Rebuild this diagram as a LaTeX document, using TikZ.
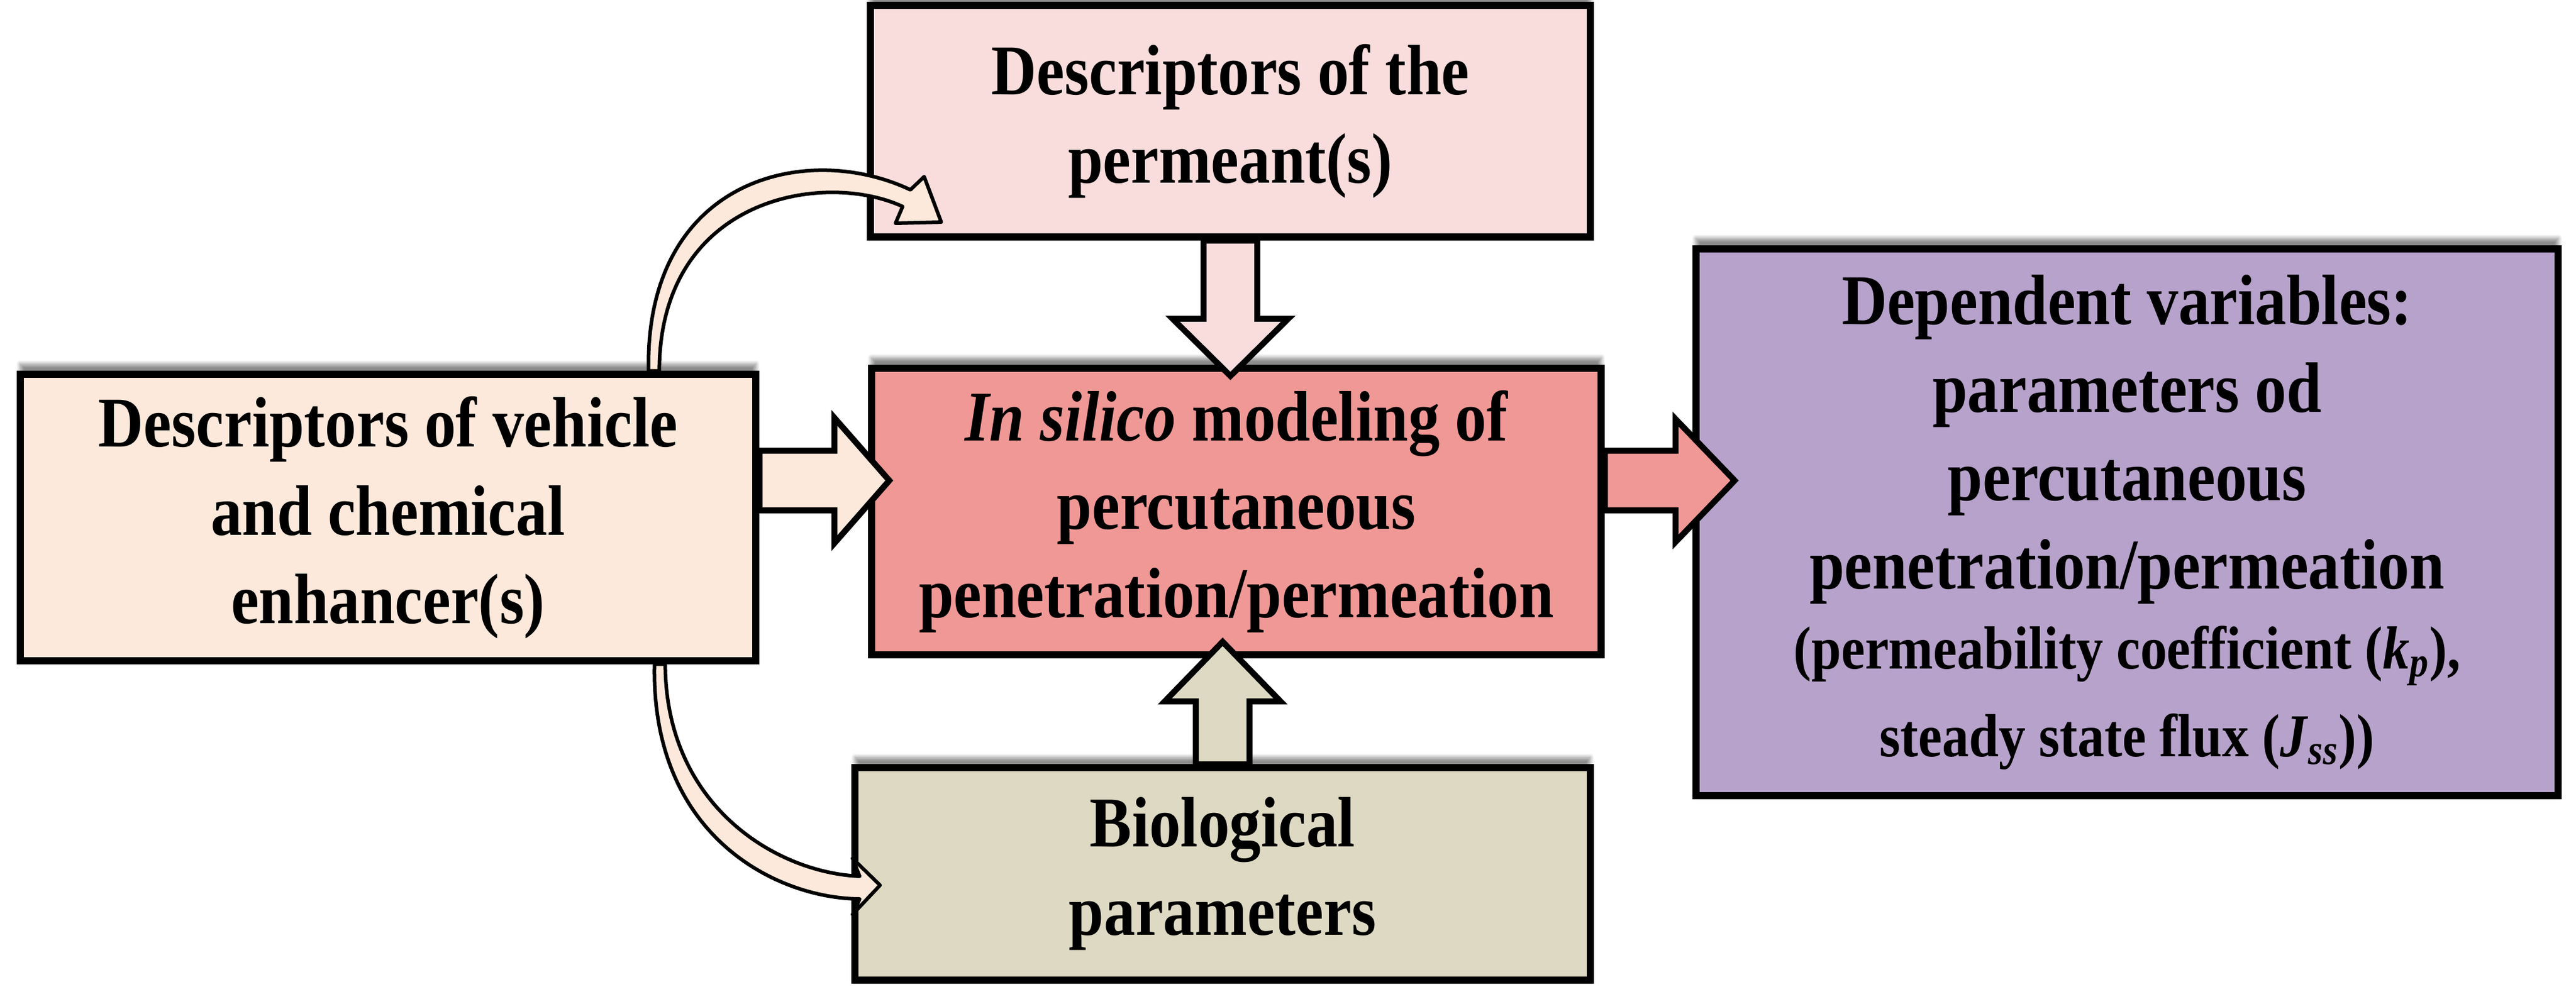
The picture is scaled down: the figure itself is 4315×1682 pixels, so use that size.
\documentclass[tikz,border=0pt]{standalone}
\usepackage{fontspec}
\setmainfont[FakeStretch=0.88]{Liberation Serif}
\usetikzlibrary{calc,shadows.blur}
\definecolor{ctop}{HTML}{F9DCDC}
\definecolor{cleft}{HTML}{FDE9DB}
\definecolor{ccen}{HTML}{F09896}
\definecolor{cbot}{HTML}{DDD9C3}
\definecolor{cright}{HTML}{B7A2CB}
\tikzset{
  box/.style={draw=black, line width=0.12cm, align=center, inner sep=0pt,
    font=\fontsize{34}{42}\selectfont\bfseries,
    blur shadow={shadow xshift=0pt, shadow yshift=5pt, shadow blur steps=10, shadow opacity=45}},
  blk/.style={draw=black, line width=0.1cm, line join=miter},
  curv/.style={draw=black, line width=0.06cm, fill=cleft, line join=round}
}
\begin{document}
\begin{tikzpicture}[x=0.01cm,y=-0.01cm]
\useasboundingbox (0,0) rectangle (4315,1682);
% boxes
\node[box, fill=ctop, minimum width=12.06cm, minimum height=3.88cm] (top) at (2061,203)
  {Descriptors of the\\permeant(s)};
\node[box, fill=cleft, minimum width=12.32cm, minimum height=4.79cm] (left) at (650,867)
  {Descriptors of vehicle\\and chemical\\enhancer(s)};
\node[box, fill=ccen, minimum width=12.22cm, minimum height=4.80cm] (center) at (2071,857)
  {\textit{In silico} modeling of\\percutaneous\\penetration/permeation};
\node[box, fill=cbot, minimum width=12.31cm, minimum height=3.55cm] (bottom) at (2048,1464)
  {Biological\\parameters};
\node[box, fill=cright, minimum width=14.44cm, minimum height=9.16cm] (right) at (3563,875)
  {Dependent variables:\\parameters od\\percutaneous\\penetration/permeation\\[-4pt]
   \fontsize{29}{35}\selectfont (permeability coefficient (\textit{k}\textsubscript{\textit{p}}),\\
   \fontsize{29}{35}\selectfont steady state flux (\textit{J}\textsubscript{\textit{ss}}))};
% block arrows
\draw[blk, fill=ctop] ($(top.south)+(-45,0)$)
  -- ($(top.south |- center.north)+(-45,-77)$) -- ($(top.south |- center.north)+(-97,-77)$)
  -- ($(top.south |- center.north)+(0,19)$)
  -- ($(top.south |- center.north)+(97,-77)$) -- ($(top.south |- center.north)+(45,-77)$)
  -- ($(top.south)+(45,0)$) -- cycle;
\draw[blk, fill=cbot] ($(bottom.north)+(-45,0)$)
  -- ($(bottom.north |- center.south)+(-45,72)$) -- ($(bottom.north |- center.south)+(-97,72)$)
  -- ($(bottom.north |- center.south)+(0,-28)$)
  -- ($(bottom.north |- center.south)+(97,72)$) -- ($(bottom.north |- center.south)+(45,72)$)
  -- ($(bottom.north)+(45,0)$) -- cycle;
\coordinate (la) at ($(left.east)+(0,-62)$);
\draw[blk, fill=cleft] ($(la)+(0,-50)$)
  -- ($(la -| center.west)+(-56,-50)$) -- ($(la -| center.west)+(-56,-105)$)
  -- ($(la -| center.west)+(36,0)$)
  -- ($(la -| center.west)+(-56,105)$) -- ($(la -| center.west)+(-56,50)$)
  -- ($(la)+(0,50)$) -- cycle;
\coordinate (ra) at ($(center.east)+(0,-52)$);
\draw[blk, fill=ccen] ($(ra)+(0,-50)$)
  -- ($(ra -| right.west)+(-28,-50)$) -- ($(ra -| right.west)+(-28,-103)$)
  -- ($(ra -| right.west)+(71,0)$)
  -- ($(ra -| right.west)+(-28,103)$) -- ($(ra -| right.west)+(-28,50)$)
  -- ($(ra)+(0,50)$) -- cycle;
% curved arrows
\draw[curv] ($(left.north east)+(-186,0)$) .. controls (1080,300) and (1350,235) .. (1525,318)
  -- (1548,296) -- ($(top.south west)+(125,-31)$) -- (1500,374) -- (1512,346)
  .. controls (1380,285) and (1105,330) .. ($(left.north east)+(-168,0)$) -- cycle;
\draw[curv] ($(left.south east)+(-176,0)$) .. controls (1090,1400) and (1300,1505) .. (1440,1506)
  -- (1428,1532) -- ($(bottom.west)+(48,19)$) -- (1428,1438) -- (1440,1468)
  .. controls (1300,1462) and (1115,1350) .. ($(left.south east)+(-158,0)$) -- cycle;
\end{tikzpicture}
\end{document}
